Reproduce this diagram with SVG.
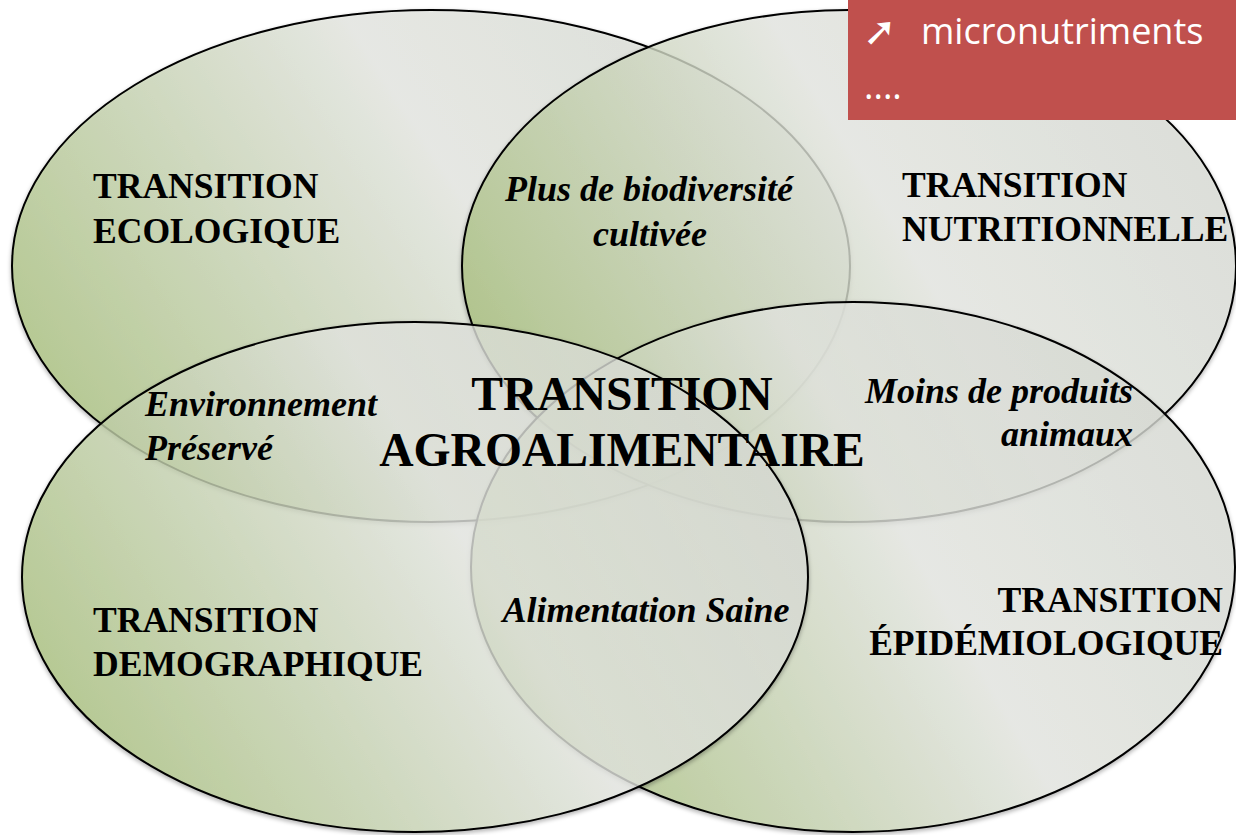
<svg xmlns="http://www.w3.org/2000/svg" width="1236" height="835" viewBox="0 0 1236 835">
  <defs>
    <linearGradient id="g" x1="0" y1="0.7" x2="1" y2="0.3">
      <stop offset="0" stop-color="#a9c27b"/>
      <stop offset="0.3" stop-color="#c9d6b3"/>
      <stop offset="0.58" stop-color="#e8eae5"/>
      <stop offset="1" stop-color="#dcdfd8"/>
    </linearGradient>
    <filter id="sh" x="-5%" y="-5%" width="110%" height="112%">
      <feDropShadow dx="0" dy="2" stdDeviation="2" flood-color="#000" flood-opacity="0.35"/>
    </filter>
  </defs>
  <style>
    .c { fill: url(#g); fill-opacity: 0.75; stroke: #000; stroke-width: 2; filter: url(#sh); }
    .t { font-family: "Liberation Serif", "Times New Roman", serif; font-weight: bold; font-size: 35.6px; fill: #000; }
    .i { font-family: "Liberation Serif", "Times New Roman", serif; font-weight: bold; font-style: italic; font-size: 36px; fill: #000; }
    .big { font-family: "Liberation Serif", "Times New Roman", serif; font-weight: bold; font-size: 47.6px; fill: #000; }
    .w { font-family: "Open Sans", "Liberation Sans", sans-serif; font-size: 36px; fill: #fff; }
  </style>
  <rect width="1236" height="835" fill="#fff"/>

  <g id="circles">
    <g id="node-ecologique-shape"><ellipse class="c" cx="431" cy="266" rx="419" ry="256"/></g>
    <g id="node-nutritionnelle-shape"><ellipse class="c" cx="849" cy="266" rx="387" ry="256"/></g>
    <g id="node-epidemiologique-shape"><ellipse class="c" cx="853" cy="567" rx="382" ry="265"/></g>
    <g id="node-demographique-shape"><ellipse class="c" cx="415" cy="577" rx="393" ry="255"/></g>
  </g>

  <g id="node-ecologique">
    <text class="t" x="93" y="198">TRANSITION</text>
    <text class="t" x="93" y="243">ECOLOGIQUE</text>
  </g>
  <g id="node-nutritionnelle">
    <text class="t" x="902" y="197">TRANSITION</text>
    <text class="t" x="902" y="241">NUTRITIONNELLE</text>
  </g>
  <g id="node-demographique">
    <text class="t" x="93" y="632">TRANSITION</text>
    <text class="t" x="93" y="676">DEMOGRAPHIQUE</text>
  </g>
  <g id="node-epidemiologique">
    <text class="t" x="1223" y="612" text-anchor="end">TRANSITION</text>
    <text class="t" x="1223" y="655" text-anchor="end">ÉPIDÉMIOLOGIQUE</text>
  </g>
  <g id="node-biodiversite">
    <text class="i" x="649" y="201" text-anchor="middle">Plus de biodiversité</text>
    <text class="i" x="650" y="246" text-anchor="middle">cultivée</text>
  </g>
  <g id="node-environnement">
    <text class="i" x="145" y="416">Environnement</text>
    <text class="i" x="145" y="460">Préservé</text>
  </g>
  <g id="node-animaux">
    <text class="i" x="1133" y="403" text-anchor="end">Moins de produits</text>
    <text class="i" x="1133" y="446" text-anchor="end">animaux</text>
  </g>
  <g id="node-alimentation">
    <text class="i" x="646" y="622" text-anchor="middle">Alimentation Saine</text>
  </g>
  <g id="node-center">
    <text class="big" x="622" y="410" text-anchor="middle">TRANSITION</text>
    <text class="big" x="622" y="466" text-anchor="middle">AGROALIMENTAIRE</text>
  </g>

  <g id="note">
    <rect x="848" y="0" width="388" height="120" fill="#c0504d"/>
    <text x="863" y="45" font-family="DejaVu Sans, sans-serif" font-size="40" fill="#fff" font-weight="bold">➚</text>
    <text class="w" x="921" y="44">micronutriments</text>
    <text class="w" x="864" y="99">....</text>
  </g>
</svg>
